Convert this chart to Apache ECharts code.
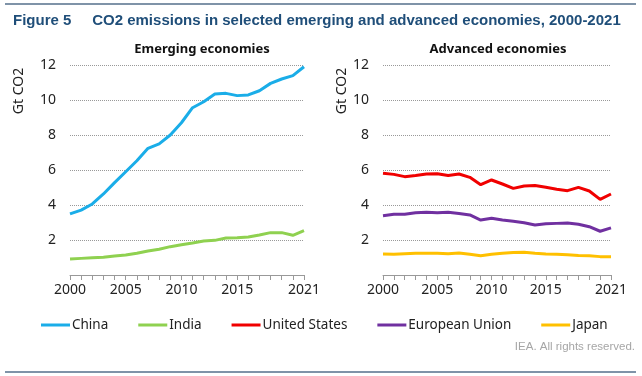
<!DOCTYPE html>
<html>
<head>
<meta charset="utf-8">
<script src="https://cdn.jsdelivr.net/npm/echarts@6/dist/echarts.min.js"></script>
<style>
  html, body { margin: 0; padding: 0; background: #fff; }
  #chart { width: 642px; height: 376px; }
</style>
</head>
<body>
<div id="chart"></div>
<script>
  // years 2000-2021
  var years = ['2000', '2001', '2002', '2003', '2004', '2005', '2006', '2007', '2008', '2009', '2010',
    '2011', '2012', '2013', '2014', '2015', '2016', '2017', '2018', '2019', '2020', '2021']
  var shownYears = ['2000', '2005', '2010', '2015', '2021']
  var yTicks = [2, 4, 6, 8, 10, 12]

  // Gt CO2
  var china = [3.49, 3.71, 4.06, 4.63, 5.28, 5.90, 6.53, 7.24, 7.49, 8.00, 8.70,
    9.56, 9.90, 10.34, 10.38, 10.25, 10.29, 10.53, 10.95, 11.20, 11.39, 11.90]
  var india = [0.91, 0.95, 0.99, 1.01, 1.09, 1.14, 1.24, 1.37, 1.47, 1.62, 1.73,
    1.83, 1.94, 1.98, 2.11, 2.13, 2.17, 2.29, 2.42, 2.42, 2.27, 2.53]
  var unitedStates = [5.81, 5.75, 5.62, 5.68, 5.77, 5.79, 5.68, 5.77, 5.58, 5.16, 5.43,
    5.20, 4.95, 5.09, 5.12, 5.01, 4.90, 4.82, 5.01, 4.80, 4.32, 4.63]
  var europeanUnion = [3.39, 3.47, 3.47, 3.56, 3.58, 3.56, 3.58, 3.52, 3.43, 3.14, 3.24,
    3.14, 3.07, 2.99, 2.86, 2.93, 2.95, 2.97, 2.90, 2.76, 2.50, 2.69]
  var japan = [1.20, 1.18, 1.22, 1.24, 1.24, 1.24, 1.22, 1.26, 1.18, 1.10, 1.18,
    1.24, 1.28, 1.30, 1.24, 1.20, 1.18, 1.16, 1.12, 1.10, 1.05, 1.05]

  var font = 'Noto Sans'
  var chart = echarts.init(document.getElementById('chart'))

  function xAxis (idx) {
    return {
      type: 'category',
      gridIndex: idx,
      data: years,
      boundaryGap: false,
      axisLine: { lineStyle: { color: '#999', width: 1 } },
      axisTick: { show: true, interval: 0, length: 5, lineStyle: { color: '#999' } },
      axisLabel: {
        interval: function (i, v) { return shownYears.indexOf(v) > -1 },
        fontFamily: font,
        fontSize: 14,
        color: '#222',
        margin: 8
      }
    }
  }

  function yAxis (idx) {
    return {
      type: 'value',
      gridIndex: idx,
      min: 0,
      max: 12,
      interval: 2,
      axisLine: { show: false },
      axisTick: { show: false },
      splitLine: { lineStyle: { color: '#999', type: 'dotted', width: 1 } },
      axisLabel: {
        fontFamily: font,
        fontSize: 14,
        color: '#222',
        margin: 14,
        formatter: function (v) { return yTicks.indexOf(v) > -1 ? String(v) : '' }
      }
    }
  }

  function line (name, data, color, idx) {
    return {
      name: name,
      type: 'line',
      xAxisIndex: idx,
      yAxisIndex: idx,
      data: data,
      symbol: 'none',
      lineStyle: { color: color, width: 3 },
      itemStyle: { color: color }
    }
  }

  var option = {
    animation: false,
    title: [
      {
        text: 'Figure 5     CO2 emissions in selected emerging and advanced economies, 2000-2021',
        left: 8,
        top: 8,
        textStyle: { fontFamily: 'Liberation Sans', fontSize: 15, fontWeight: 'bold', color: '#1f4e79' }
      },
      {
        text: 'Emerging economies',
        left: 197,
        textAlign: 'center',
        top: 38,
        textStyle: { fontFamily: font, fontSize: 13, fontWeight: 'bold', color: '#111' }
      },
      {
        text: 'Advanced economies',
        left: 493,
        textAlign: 'center',
        top: 38,
        textStyle: { fontFamily: font, fontSize: 13, fontWeight: 'bold', color: '#111' }
      }
    ],
    legend: {
      left: 36,
      top: 313,
      itemWidth: 29,
      itemHeight: 3,
      itemGap: 30,
      icon: 'rect',
      textStyle: { fontFamily: font, fontSize: 13.5, color: '#222', padding: [0, 0, 0, -3] },
      data: ['China', 'India', 'United States', 'European Union', 'Japan']
    },
    grid: [
      { left: 70, right: 338, top: 65, bottom: 101 },
      { left: 383, right: 31, top: 65, bottom: 101 }
    ],
    xAxis: [xAxis(0), xAxis(1)],
    yAxis: [yAxis(0), yAxis(1)],
    graphic: [
      { type: 'line', shape: { x1: 5, y1: 4, x2: 636, y2: 4 }, style: { stroke: '#7f93a8', lineWidth: 2 } },
      { type: 'line', shape: { x1: 5, y1: 372, x2: 636, y2: 372 }, style: { stroke: '#7f93a8', lineWidth: 2 } },
      {
        type: 'text', x: 19, y: 91, rotation: Math.PI / 2,
        style: { text: 'Gt CO2', font: '14px "Noto Sans"', fill: '#222', align: 'center', verticalAlign: 'middle' }
      },
      {
        type: 'text', x: 342, y: 91, rotation: Math.PI / 2,
        style: { text: 'Gt CO2', font: '14px "Noto Sans"', fill: '#222', align: 'center', verticalAlign: 'middle' }
      },
      {
        type: 'text', right: 7, top: 341,
        style: { text: 'IEA. All rights reserved.', font: '11.5px "Liberation Sans"', fill: '#a6a6a6' }
      }
    ],
    series: [
      line('China', china, '#1aade8', 0),
      line('India', india, '#8fd150', 0),
      line('United States', unitedStates, '#f00000', 1),
      line('European Union', europeanUnion, '#7030a0', 1),
      line('Japan', japan, '#ffc000', 1)
    ]
  }

  chart.setOption(option)
</script>
</body>
</html>
